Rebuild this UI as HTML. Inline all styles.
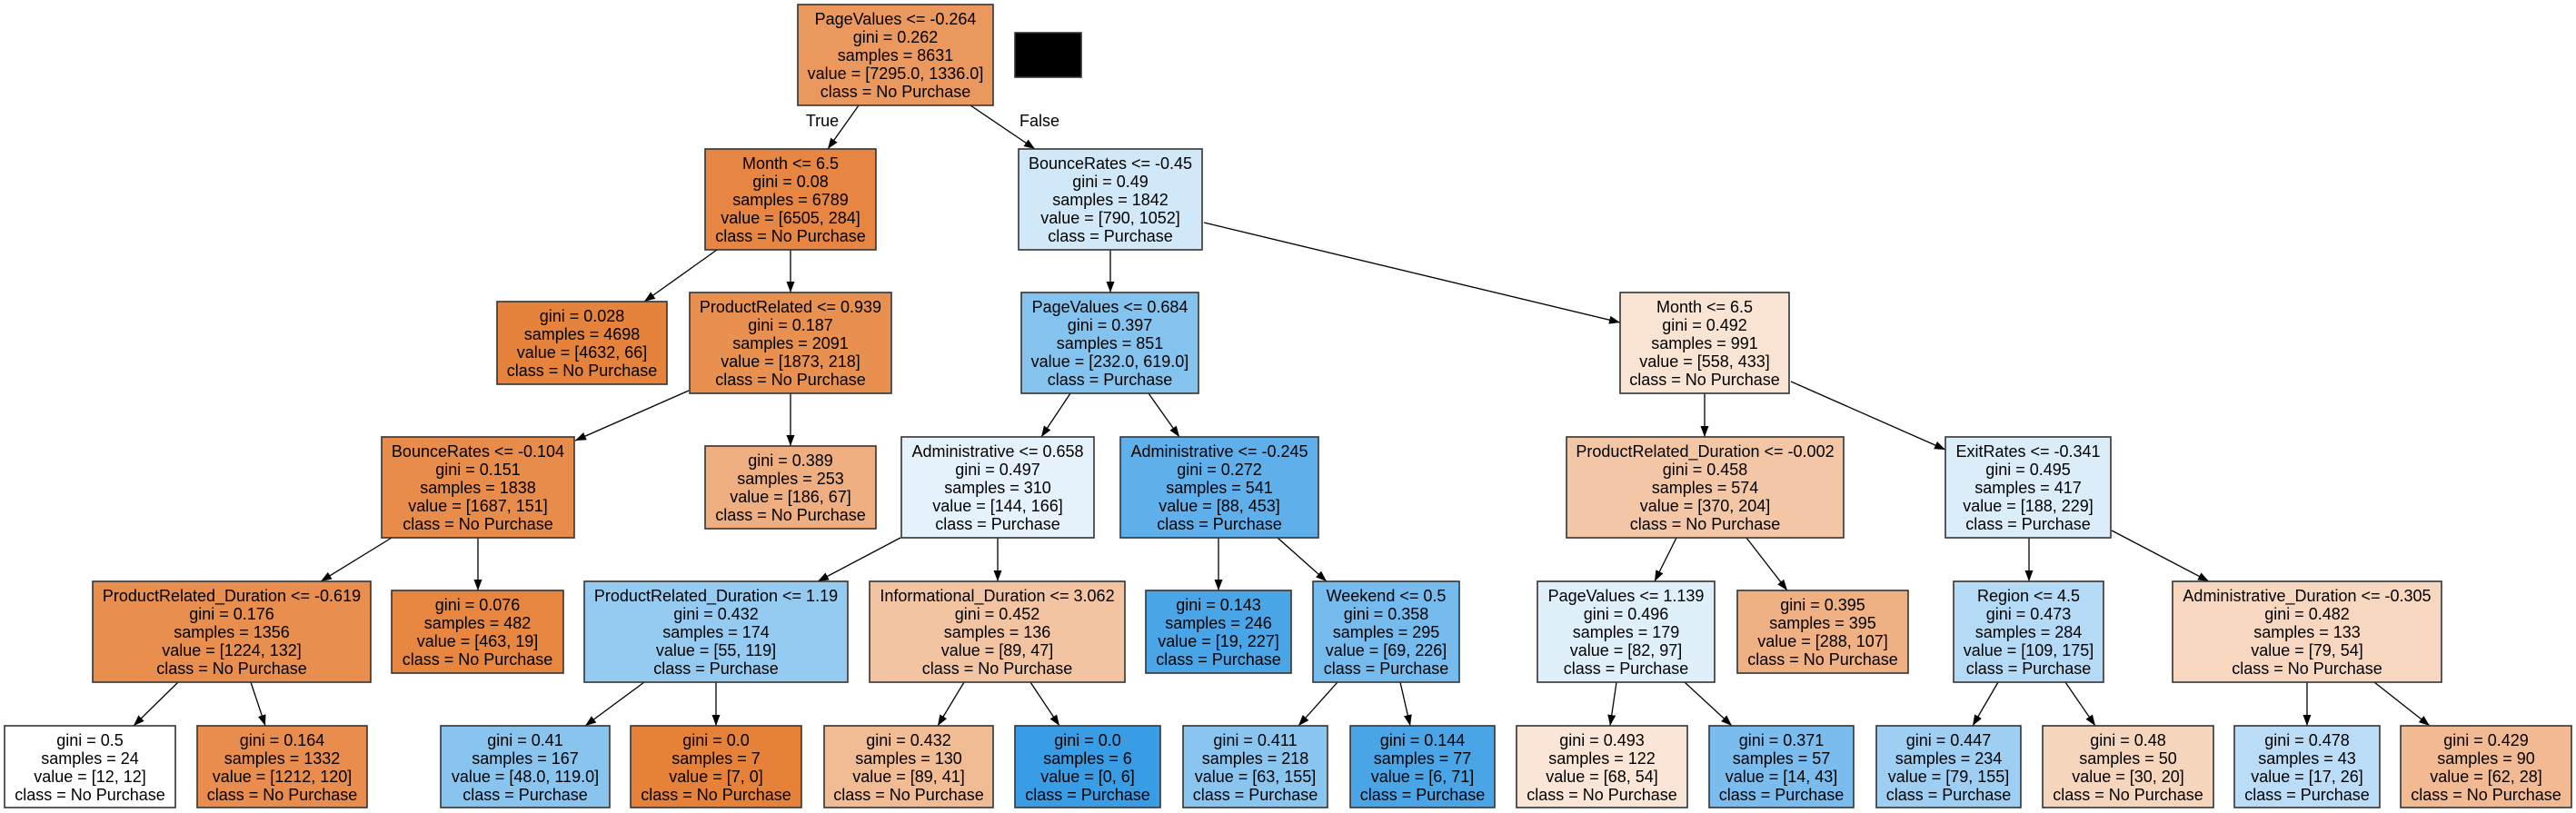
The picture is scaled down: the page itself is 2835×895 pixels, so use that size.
<!DOCTYPE html>
<html><head><meta charset="utf-8"><style>
html,body{margin:0;padding:0;background:#fff}
svg{display:block}
text{font-family:"Liberation Sans",sans-serif;font-size:18px;fill:#000;text-anchor:middle}
rect{stroke:#333;stroke-width:1.6}
line{stroke:#000;stroke-width:1.3}
</style></head><body>
<svg width="2835" height="895" viewBox="0 0 2835 895" xmlns="http://www.w3.org/2000/svg">
<defs><marker id="a" markerUnits="userSpaceOnUse" markerWidth="13" markerHeight="10" refX="12" refY="4.5" orient="auto"><path d="M0,0 L12,4.5 L0,9 z" fill="#000"/></marker></defs>
<rect x="1117" y="36" width="73" height="49" fill="#000" stroke="none"/>
<g marker-end="url(#a)">
<line x1="945" y1="116" x2="911" y2="164"/><line x1="1068" y1="116" x2="1139" y2="164"/>
<line x1="789" y1="275" x2="709" y2="332"/><line x1="870" y1="275" x2="870" y2="322"/>
<line x1="1222" y1="275" x2="1222" y2="322"/><line x1="1325" y1="245" x2="1783" y2="355"/>
<line x1="758" y1="430" x2="633" y2="485"/><line x1="870" y1="433" x2="870" y2="491"/>
<line x1="1178" y1="433" x2="1146" y2="481"/><line x1="1264" y1="433" x2="1298" y2="481"/>
<line x1="1876" y1="433" x2="1876" y2="481"/><line x1="1971" y1="420" x2="2141" y2="495"/>
<line x1="431" y1="592" x2="353" y2="640"/><line x1="526" y1="592" x2="526" y2="650"/>
<line x1="991" y1="592" x2="900" y2="640"/><line x1="1098" y1="592" x2="1098" y2="640"/>
<line x1="1341" y1="592" x2="1341" y2="650"/><line x1="1406" y1="592" x2="1460" y2="640"/>
<line x1="1845" y1="592" x2="1821" y2="640"/><line x1="1922" y1="592" x2="1967" y2="650"/>
<line x1="2233" y1="592" x2="2233" y2="640"/><line x1="2324" y1="584" x2="2431" y2="640"/>
<line x1="196" y1="751" x2="147" y2="799"/><line x1="276" y1="751" x2="292" y2="799"/>
<line x1="709" y1="751" x2="644" y2="799"/><line x1="788" y1="751" x2="788" y2="799"/>
<line x1="1061" y1="751" x2="1032" y2="799"/><line x1="1134" y1="751" x2="1166" y2="799"/>
<line x1="1472" y1="751" x2="1429" y2="799"/><line x1="1541" y1="751" x2="1552" y2="799"/>
<line x1="1779" y1="751" x2="1772" y2="799"/><line x1="1854" y1="751" x2="1906" y2="799"/>
<line x1="2199" y1="751" x2="2171" y2="799"/><line x1="2273" y1="751" x2="2306" y2="799"/>
<line x1="2539" y1="751" x2="2539" y2="799"/><line x1="2613" y1="751" x2="2674" y2="799"/>
</g>
<text x="905" y="139">True</text><text x="1144" y="139">False</text>

<!-- internal nodes -->
<rect x="878" y="5" width="215" height="111" fill="#ea985d"/>
<text x="985.5"><tspan x="985.5" y="27">PageValues &lt;= -0.264</tspan><tspan x="985.5" y="47">gini = 0.262</tspan><tspan x="985.5" y="67">samples = 8631</tspan><tspan x="985.5" y="87">value = [7295.0, 1336.0]</tspan><tspan x="985.5" y="107">class = No Purchase</tspan></text>

<rect x="776" y="164" width="188" height="111" fill="#e68642"/>
<text><tspan x="870" y="186">Month &lt;= 6.5</tspan><tspan x="870" y="206">gini = 0.08</tspan><tspan x="870" y="226">samples = 6789</tspan><tspan x="870" y="246">value = [6505, 284]</tspan><tspan x="870" y="266">class = No Purchase</tspan></text>

<rect x="1121" y="164" width="202" height="111" fill="#d1e8f9"/>
<text><tspan x="1222" y="186">BounceRates &lt;= -0.45</tspan><tspan x="1222" y="206">gini = 0.49</tspan><tspan x="1222" y="226">samples = 1842</tspan><tspan x="1222" y="246">value = [790, 1052]</tspan><tspan x="1222" y="266">class = Purchase</tspan></text>

<rect x="547" y="332" width="187" height="91" fill="#e5823b"/>
<text><tspan x="640.5" y="354">gini = 0.028</tspan><tspan x="640.5" y="374">samples = 4698</tspan><tspan x="640.5" y="394">value = [4632, 66]</tspan><tspan x="640.5" y="414">class = No Purchase</tspan></text>

<rect x="759" y="322" width="222" height="111" fill="#e89050"/>
<text><tspan x="870" y="344">ProductRelated &lt;= 0.939</tspan><tspan x="870" y="364">gini = 0.187</tspan><tspan x="870" y="384">samples = 2091</tspan><tspan x="870" y="404">value = [1873, 218]</tspan><tspan x="870" y="424">class = No Purchase</tspan></text>

<rect x="1124" y="322" width="195" height="111" fill="#85c3ef"/>
<text><tspan x="1221.5" y="344">PageValues &lt;= 0.684</tspan><tspan x="1221.5" y="364">gini = 0.397</tspan><tspan x="1221.5" y="384">samples = 851</tspan><tspan x="1221.5" y="404">value = [232.0, 619.0]</tspan><tspan x="1221.5" y="424">class = Purchase</tspan></text>

<rect x="1783" y="322" width="186" height="111" fill="#f9e3d3"/>
<text><tspan x="1876" y="344">Month &lt;= 6.5</tspan><tspan x="1876" y="364">gini = 0.492</tspan><tspan x="1876" y="384">samples = 991</tspan><tspan x="1876" y="404">value = [558, 433]</tspan><tspan x="1876" y="424">class = No Purchase</tspan></text>

<rect x="420" y="481" width="212" height="111" fill="#e78c4b"/>
<text><tspan x="526" y="503">BounceRates &lt;= -0.104</tspan><tspan x="526" y="523">gini = 0.151</tspan><tspan x="526" y="543">samples = 1838</tspan><tspan x="526" y="563">value = [1687, 151]</tspan><tspan x="526" y="583">class = No Purchase</tspan></text>

<rect x="776" y="491" width="188" height="91" fill="#eeae80"/>
<text><tspan x="870" y="513">gini = 0.389</tspan><tspan x="870" y="533">samples = 253</tspan><tspan x="870" y="553">value = [186, 67]</tspan><tspan x="870" y="573">class = No Purchase</tspan></text>

<rect x="992" y="481" width="212" height="111" fill="#e5f2fc"/>
<text><tspan x="1098" y="503">Administrative &lt;= 0.658</tspan><tspan x="1098" y="523">gini = 0.497</tspan><tspan x="1098" y="543">samples = 310</tspan><tspan x="1098" y="563">value = [144, 166]</tspan><tspan x="1098" y="583">class = Purchase</tspan></text>

<rect x="1233" y="481" width="218" height="111" fill="#5fb0ea"/>
<text><tspan x="1342" y="503">Administrative &lt;= -0.245</tspan><tspan x="1342" y="523">gini = 0.272</tspan><tspan x="1342" y="543">samples = 541</tspan><tspan x="1342" y="563">value = [88, 453]</tspan><tspan x="1342" y="583">class = Purchase</tspan></text>

<rect x="1724" y="481" width="305" height="111" fill="#f3c7a6"/>
<text><tspan x="1876.5" y="503">ProductRelated_Duration &lt;= -0.002</tspan><tspan x="1876.5" y="523">gini = 0.458</tspan><tspan x="1876.5" y="543">samples = 574</tspan><tspan x="1876.5" y="563">value = [370, 204]</tspan><tspan x="1876.5" y="583">class = No Purchase</tspan></text>

<rect x="2141" y="481" width="182" height="111" fill="#dcedfa"/>
<text><tspan x="2232" y="503">ExitRates &lt;= -0.341</tspan><tspan x="2232" y="523">gini = 0.495</tspan><tspan x="2232" y="543">samples = 417</tspan><tspan x="2232" y="563">value = [188, 229]</tspan><tspan x="2232" y="583">class = Purchase</tspan></text>

<rect x="102" y="640" width="306" height="111" fill="#e88e4e"/>
<text><tspan x="255" y="662">ProductRelated_Duration &lt;= -0.619</tspan><tspan x="255" y="682">gini = 0.176</tspan><tspan x="255" y="702">samples = 1356</tspan><tspan x="255" y="722">value = [1224, 132]</tspan><tspan x="255" y="742">class = No Purchase</tspan></text>

<rect x="431" y="650" width="189" height="91" fill="#e68641"/>
<text><tspan x="525.5" y="672">gini = 0.076</tspan><tspan x="525.5" y="692">samples = 482</tspan><tspan x="525.5" y="712">value = [463, 19]</tspan><tspan x="525.5" y="732">class = No Purchase</tspan></text>

<rect x="643" y="640" width="290" height="111" fill="#95cbf1"/>
<text><tspan x="788" y="662">ProductRelated_Duration &lt;= 1.19</tspan><tspan x="788" y="682">gini = 0.432</tspan><tspan x="788" y="702">samples = 174</tspan><tspan x="788" y="722">value = [55, 119]</tspan><tspan x="788" y="742">class = Purchase</tspan></text>

<rect x="957" y="640" width="281" height="111" fill="#f3c4a2"/>
<text><tspan x="1097.5" y="662">Informational_Duration &lt;= 3.062</tspan><tspan x="1097.5" y="682">gini = 0.452</tspan><tspan x="1097.5" y="702">samples = 136</tspan><tspan x="1097.5" y="722">value = [89, 47]</tspan><tspan x="1097.5" y="742">class = No Purchase</tspan></text>

<rect x="1261" y="650" width="160" height="91" fill="#4aa5e7"/>
<text><tspan x="1341" y="672">gini = 0.143</tspan><tspan x="1341" y="692">samples = 246</tspan><tspan x="1341" y="712">value = [19, 227]</tspan><tspan x="1341" y="732">class = Purchase</tspan></text>

<rect x="1445" y="640" width="161" height="111" fill="#75bbed"/>
<text><tspan x="1525.5" y="662">Weekend &lt;= 0.5</tspan><tspan x="1525.5" y="682">gini = 0.358</tspan><tspan x="1525.5" y="702">samples = 295</tspan><tspan x="1525.5" y="722">value = [69, 226]</tspan><tspan x="1525.5" y="742">class = Purchase</tspan></text>

<rect x="1692" y="640" width="195" height="111" fill="#e0f0fb"/>
<text><tspan x="1789.5" y="662">PageValues &lt;= 1.139</tspan><tspan x="1789.5" y="682">gini = 0.496</tspan><tspan x="1789.5" y="702">samples = 179</tspan><tspan x="1789.5" y="722">value = [82, 97]</tspan><tspan x="1789.5" y="742">class = Purchase</tspan></text>

<rect x="1912" y="650" width="188" height="91" fill="#efb083"/>
<text><tspan x="2006" y="672">gini = 0.395</tspan><tspan x="2006" y="692">samples = 395</tspan><tspan x="2006" y="712">value = [288, 107]</tspan><tspan x="2006" y="732">class = No Purchase</tspan></text>

<rect x="2150" y="640" width="165" height="111" fill="#b5daf5"/>
<text><tspan x="2232.5" y="662">Region &lt;= 4.5</tspan><tspan x="2232.5" y="682">gini = 0.473</tspan><tspan x="2232.5" y="702">samples = 284</tspan><tspan x="2232.5" y="722">value = [109, 175]</tspan><tspan x="2232.5" y="742">class = Purchase</tspan></text>

<rect x="2391" y="640" width="296" height="111" fill="#f7d7c0"/>
<text><tspan x="2539" y="662">Administrative_Duration &lt;= -0.305</tspan><tspan x="2539" y="682">gini = 0.482</tspan><tspan x="2539" y="702">samples = 133</tspan><tspan x="2539" y="722">value = [79, 54]</tspan><tspan x="2539" y="742">class = No Purchase</tspan></text>

<!-- bottom leaves -->
<rect x="5" y="799" width="188" height="90" fill="#ffffff"/>
<text><tspan x="99" y="821">gini = 0.5</tspan><tspan x="99" y="841">samples = 24</tspan><tspan x="99" y="861">value = [12, 12]</tspan><tspan x="99" y="881">class = No Purchase</tspan></text>
<rect x="217" y="799" width="187" height="90" fill="#e88d4d"/>
<text><tspan x="310.5" y="821">gini = 0.164</tspan><tspan x="310.5" y="841">samples = 1332</tspan><tspan x="310.5" y="861">value = [1212, 120]</tspan><tspan x="310.5" y="881">class = No Purchase</tspan></text>
<rect x="485" y="799" width="186" height="90" fill="#89c4ef"/>
<text><tspan x="578" y="821">gini = 0.41</tspan><tspan x="578" y="841">samples = 167</tspan><tspan x="578" y="861">value = [48.0, 119.0]</tspan><tspan x="578" y="881">class = Purchase</tspan></text>
<rect x="694" y="799" width="188" height="90" fill="#e58139"/>
<text><tspan x="788" y="821">gini = 0.0</tspan><tspan x="788" y="841">samples = 7</tspan><tspan x="788" y="861">value = [7, 0]</tspan><tspan x="788" y="881">class = No Purchase</tspan></text>
<rect x="907" y="799" width="186" height="90" fill="#f1bb94"/>
<text><tspan x="1000" y="821">gini = 0.432</tspan><tspan x="1000" y="841">samples = 130</tspan><tspan x="1000" y="861">value = [89, 41]</tspan><tspan x="1000" y="881">class = No Purchase</tspan></text>
<rect x="1117" y="799" width="160" height="90" fill="#399de5"/>
<text><tspan x="1197" y="821">gini = 0.0</tspan><tspan x="1197" y="841">samples = 6</tspan><tspan x="1197" y="861">value = [0, 6]</tspan><tspan x="1197" y="881">class = Purchase</tspan></text>
<rect x="1302" y="799" width="159" height="90" fill="#8ac5f0"/>
<text><tspan x="1381.5" y="821">gini = 0.411</tspan><tspan x="1381.5" y="841">samples = 218</tspan><tspan x="1381.5" y="861">value = [63, 155]</tspan><tspan x="1381.5" y="881">class = Purchase</tspan></text>
<rect x="1486" y="799" width="159" height="90" fill="#4aa5e7"/>
<text><tspan x="1565.5" y="821">gini = 0.144</tspan><tspan x="1565.5" y="841">samples = 77</tspan><tspan x="1565.5" y="861">value = [6, 71]</tspan><tspan x="1565.5" y="881">class = Purchase</tspan></text>
<rect x="1669" y="799" width="188" height="90" fill="#fae5d6"/>
<text><tspan x="1763" y="821">gini = 0.493</tspan><tspan x="1763" y="841">samples = 122</tspan><tspan x="1763" y="861">value = [68, 54]</tspan><tspan x="1763" y="881">class = No Purchase</tspan></text>
<rect x="1881" y="799" width="159" height="90" fill="#79bced"/>
<text><tspan x="1960.5" y="821">gini = 0.371</tspan><tspan x="1960.5" y="841">samples = 57</tspan><tspan x="1960.5" y="861">value = [14, 43]</tspan><tspan x="1960.5" y="881">class = Purchase</tspan></text>
<rect x="2065" y="799" width="159" height="90" fill="#9ecff2"/>
<text><tspan x="2144.5" y="821">gini = 0.447</tspan><tspan x="2144.5" y="841">samples = 234</tspan><tspan x="2144.5" y="861">value = [79, 155]</tspan><tspan x="2144.5" y="881">class = Purchase</tspan></text>
<rect x="2248" y="799" width="188" height="90" fill="#f6d5bd"/>
<text><tspan x="2342" y="821">gini = 0.48</tspan><tspan x="2342" y="841">samples = 50</tspan><tspan x="2342" y="861">value = [30, 20]</tspan><tspan x="2342" y="881">class = No Purchase</tspan></text>
<rect x="2459" y="799" width="160" height="90" fill="#badcf6"/>
<text><tspan x="2539" y="821">gini = 0.478</tspan><tspan x="2539" y="841">samples = 43</tspan><tspan x="2539" y="861">value = [17, 26]</tspan><tspan x="2539" y="881">class = Purchase</tspan></text>
<rect x="2642" y="799" width="188" height="90" fill="#f1ba92"/>
<text><tspan x="2736" y="821">gini = 0.429</tspan><tspan x="2736" y="841">samples = 90</tspan><tspan x="2736" y="861">value = [62, 28]</tspan><tspan x="2736" y="881">class = No Purchase</tspan></text>
</svg>
</body></html>
